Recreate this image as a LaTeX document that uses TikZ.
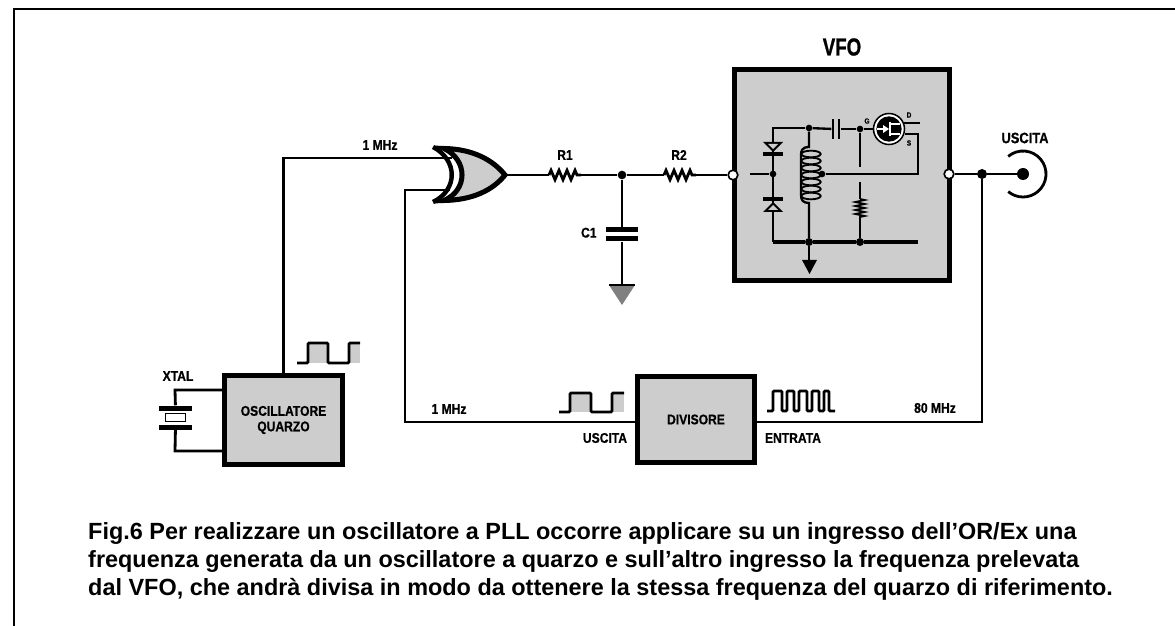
\documentclass[tikz,border=0pt]{standalone}
\usepackage{fontspec}
\usepackage{xcolor}
\setmainfont{Liberation Sans}
\newfontfamily\partfont[FakeStretch=0.86,FakeBold=0.7]{Liberation Sans}
\newfontfamily\headfont[FakeStretch=0.76,FakeBold=1]{Liberation Sans}
\usetikzlibrary{positioning, calc, decorations.pathmorphing}
\definecolor{screen}{RGB}{205,205,205}

\begin{document}
\begin{tikzpicture}[
        x=0.03cm, y=-0.03cm,
        block/.style={rectangle, draw=black, fill=screen, line width=4.3pt, align=center, inner sep=0pt, font=\partfont\bfseries\fontsize{12}{13.2}\selectfont},
        part/.style={inner sep=0pt, font=\partfont\bfseries\fontsize{12}{13}\selectfont},
        big/.style={inner sep=0pt, font=\partfont\bfseries\fontsize{12.8}{14}\selectfont},
        pin/.style={inner sep=0pt, font=\partfont\bfseries\fontsize{6.5}{7}\selectfont},
        wire/.style={line width=2.4pt, black, line join=miter},
        thin wire/.style={line width=2pt, black},
        bus/.style={line width=3.2pt, black},
        dot/.style={circle, fill=black, inner sep=0pt, minimum size=0.26cm},
        term/.style={circle, draw=black, fill=white, line width=1.4pt, inner sep=0pt, minimum size=0.29cm},
        plate/.style={rectangle, fill=black, inner sep=0pt, minimum width=#1, minimum height=0.15cm},
        res/.style={decorate, decoration={zigzag, segment length=0.24cm, amplitude=0.14cm}},
        wave/.style={line width=2.4pt, black, rounded corners=1pt}
    ]

    \useasboundingbox (0,0) rectangle (1175,626);

    % Frame of the page
    \coordinate (frame_a) at (14,626);
    \coordinate (frame_b) at (14,9);
    \coordinate (frame_c) at (1175,9);
    \draw[line width=1.8pt] (frame_a) -- (frame_b) -- (frame_c);

    % Main blocks
    \node[block, minimum width=3.54cm, minimum height=2.67cm] (osc) at (283.5,420) {OSCILLATORE\\QUARZO};
    \node[block, minimum width=3.51cm, minimum height=2.58cm] (div) at (696,419.5) {DIVISORE};
    \node[block, minimum width=6.45cm, minimum height=6.33cm] (vfo) at (842,175) {};
    \node[inner sep=0pt, font=\headfont\bfseries\fontsize{21}{22}\selectfont, above=0.33cm of vfo] (vfo_l) {VFO};

    % Row terminals and junctions
    \node[term] (vfo_in) at (733,175) {};
    \node[term] (vfo_out) at (949,174) {};
    \node[dot, minimum size=0.3cm] (out_j) at (982,174) {};
    \node[dot, minimum size=0.36cm] (jack) at (1023,174) {};
    \node[dot] (rc_j) at (622,175) {};

    % XOR gate
    \coordinate (xor_a) at (452,158);
    \coordinate (xor_b) at (450,190);
    \coordinate (xor_out) at (505,175);
    \draw[line width=4.3pt, fill=screen, miter limit=10] (444,148.5) .. controls (473,149) and (493,160) .. (xor_out) .. controls (493,190) and (473,200) .. (444,200.5) .. controls (468,190) and (468,160) .. (444,148.5) -- cycle;
    \draw[line width=3.8pt] (433,147) .. controls (458,160) and (458,190) .. (433,202);

    % Resistors and capacitor
    \coordinate (r1_a) at (549,175);
    \coordinate (r1_b) at (581,175);
    \coordinate (r2_a) at (664,175);
    \coordinate (r2_b) at (696,175);
    \node[part] (r1_l) at (565,155) {R1};
    \node[part] (r2_l) at (679,155) {R2};
    \node[plate=0.96cm] (c1_a) at (622,230) {};
    \node[plate=0.96cm] (c1_b) at (622,239) {};
    \node[part, left=0.27cm of c1_a.south west] (c1_l) {C1};
    \coordinate (gnd) at (622,285);
    \fill[gray] (gnd) ++(-13,0) -- ++(26,0) -- ++(-13,20) -- cycle;
    \draw[line width=1pt] (609,285) -- (635,285);

    % Forward path
    \draw[wire] (xor_out) -- (r1_a);
    \draw[wire, res] (r1_a) -- (r1_b);
    \draw[wire] (r1_b) -- (rc_j);
    \draw[wire] (rc_j) -- (r2_a);
    \draw[wire, res] (r2_a) -- (r2_b);
    \draw[wire] (r2_b) -- (vfo_in);
    \draw[wire] (rc_j) -- (c1_a);
    \draw[wire] (c1_b) -- (gnd);

    % Inputs and feedback
    \draw[wire] (osc.north) |- (xor_a);
    \coordinate (fb_top) at (405,190);
    \coordinate (fb_bot) at (405,422);
    \draw[wire] (div.west |- fb_bot) -- (fb_bot) -- (fb_top) -- (xor_b);
    \draw[wire] (vfo_out) -- (out_j);
    \draw[wire] (out_j) -- (jack);
    \draw[wire] (out_j) |- (div.east |- fb_bot);
    \draw[line width=2.4pt] (jack) ++(130:0.69cm) arc[start angle=130, end angle=-130, radius=0.69cm];

    % Crystal
    \coordinate (xt_a) at (175,390);
    \coordinate (xt_b) at (175,451);
    \node[plate=0.97cm] (xt_top) at (175.5,408) {};
    \node[plate=0.97cm] (xt_bot) at (175.5,427) {};
    \node[draw=black, fill=white, line width=1pt, inner sep=0pt, minimum width=0.62cm, minimum height=0.22cm] (xt_mid) at (175.5,417.5) {};
    \draw[wire] (xt_top) -- (xt_a) -- (xt_a -| osc.west);
    \draw[wire] (xt_bot) -- (xt_b) -- (xt_b -| osc.west);
    \node[part] (xt_l) at (178,376) {XTAL};

    % Labels
    \node[part] (f1_l) at (380,145) {1 MHz};
    \node[part] (f2_l) at (449,409) {1 MHz};
    \node[part] (f3_l) at (935,408) {80 MHz};
    \node[part] (us_l) at (605,438) {USCITA};
    \node[part] (en_l) at (793,438) {ENTRATA};
    \node[big] (out_l) at (1025,138) {USCITA};

    % Waveforms
    \fill[screen] (308,343) rectangle (328,363);
    \fill[screen] (349,343) rectangle (360,363);
    \draw[wave] (297,363) -- (308,363) -- (308,343) -- (328,343) -- (328,363) -- (349,363) -- (349,343) -- (360,343);
    \fill[screen] (570,393) rectangle (591,412);
    \fill[screen] (612,393) rectangle (624,412);
    \draw[wave] (559,412) -- (570,412) -- (570,393) -- (591,393) -- (591,412) -- (612,412) -- (612,393) -- (624,393);
    \draw[wave] (767,411) -- (773,411)
        -- (773,391) -- (782,391) -- (782,411) -- (787,411)
        -- (787,391) -- (794,391) -- (794,411) -- (799,411)
        -- (799,391) -- (807,391) -- (807,411) -- (812,411)
        -- (812,391) -- (819,391) -- (819,411) -- (824,411)
        -- (824,391) -- (829,391) -- (829,411) -- (835,411);

    % Circuit inside the VFO
    \node[dot, minimum size=0.2cm] (top_j) at (809,128) {};
    \node[dot, minimum size=0.2cm] (gate_j) at (860,129) {};
    \node[dot, minimum size=0.2cm] (var_j) at (773,174) {};
    \node[dot, minimum size=0.2cm] (tap_j) at (822,174) {};
    \node[dot, minimum size=0.24cm] (bus_a) at (809,242) {};
    \node[dot, minimum size=0.24cm] (bus_b) at (860,242) {};
    \coordinate (bus_l) at (773,242);
    \coordinate (bus_r) at (918,242);
    \coordinate (top_l) at (773,128);
    \coordinate (stub) at (750,174);
    \draw[bus] (bus_l) -- (bus_a) -- (bus_b) -- (bus_r);
    \draw[thin wire] (stub) -- (var_j);
    \draw[thin wire] (bus_l) -- (top_l) -- (top_j);

    % Varicaps
    \fill (763,142) -- (783,142) -- (773,152) -- cycle;
    \fill (763,212) -- (783,212) -- (773,202) -- cycle;
    \fill[screen] (768,144) -- (778,144) -- (773,149) -- cycle;
    \fill[screen] (768,210) -- (778,210) -- (773,205) -- cycle;
    \draw[line width=3pt] (763,154) -- (783,154);
    \draw[line width=3pt] (763,199) -- (783,199);

    % Coupling capacitor
    \node[rectangle, fill=black, inner sep=0pt, minimum width=0.08cm, minimum height=0.6cm] (cc_a) at (833,129) {};
    \node[rectangle, fill=black, inner sep=0pt, minimum width=0.08cm, minimum height=0.6cm] (cc_b) at (839,129) {};
    \draw[thin wire] (top_j) -- (cc_a);
    \draw[thin wire] (cc_b) -- (gate_j);

    % Coil
    \draw[thin wire] (top_j) -- (809,147) .. controls (802,147) and (801,151) .. (801,155) -- (801,195) .. controls (801,200) and (803,203) .. (809,203) -- (bus_a);
    \foreach \y in {154,161,168,175,182,189,196}
        \draw[line width=1.6pt] (811,\y) ellipse [x radius=0.29cm, y radius=0.1cm];
    \draw[thin wire] (tap_j) -- (918,174) -- (918,134) -- (905,134);

    % Bias resistor
    \coordinate (rg_a) at (860,167);
    \coordinate (rg_b) at (860,182);
    \coordinate (rg_c) at (860,199);
    \coordinate (rg_d) at (860,218);
    \draw[thin wire] (gate_j) -- (rg_a);
    \draw[thin wire] (rg_b) -- (rg_c);
    \draw[line width=1.5pt, decorate, decoration={zigzag, segment length=0.12cm, amplitude=0.14cm}] (rg_c) -- (rg_d);
    \draw[thin wire] (rg_d) -- (bus_b);

    % Ground arrow
    \coordinate (arr) at (809,260);
    \draw[thin wire] (bus_a) -- (arr);
    \fill (802,260) -- (817,260) -- (809.5,274) -- cycle;

    % MOSFET
    \node[circle, draw=black, fill=white, line width=1.3pt, inner sep=0pt, minimum size=0.93cm] (fet) at (889,129) {};
    \node[circle, fill=black, inner sep=0pt, minimum size=0.76cm] (fet_in) at (889,129) {};
    \draw[thin wire] (gate_j) -- (fet);
    \draw[white, line width=1.1pt] (877,129) -- (888,129);
    \fill[white] (889,129) -- (883,125) -- (883,133) -- cycle;
    \draw[white, line width=1.3pt] (890,122) -- (890,136);
    \draw[white, line width=1.1pt] (890,124) -- (900,124) (890,134) -- (900,134);
    \coordinate (fet_d) at (920,123);
    \draw[thin wire] (fet.north east |- fet_d) ++(2,0) -- (fet_d);
    \node[pin] (g_l) at (867,121) {G};
    \node[pin] (d_l) at (909,115) {D};
    \node[pin] (s_l) at (909,143) {S};

    % Caption
    \node[anchor=north west, inner sep=0pt, align=left, font=\bfseries\fontsize{20}{23.9}\selectfont] (caption) at (88,522.5) {Fig.6 Per realizzare un oscillatore a PLL occorre applicare su un ingresso dell'OR/Ex una\\frequenza generata da un oscillatore a quarzo e sull'altro ingresso la frequenza prelevata\\dal VFO, che andrà divisa in modo da ottenere la stessa frequenza del quarzo di riferimento.};

\end{tikzpicture}
\end{document}
